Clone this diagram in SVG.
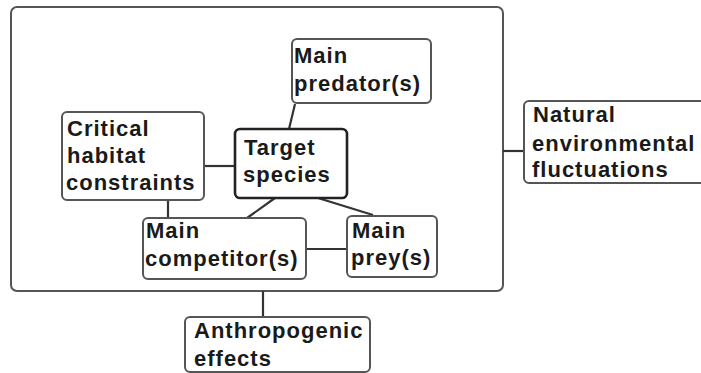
<svg xmlns="http://www.w3.org/2000/svg" width="701" height="373" viewBox="0 0 701 373">
<style>
.box{fill:#fff;stroke:#555;stroke-width:2}
.outer{fill:#fff;stroke:#555;stroke-width:2}
.main{fill:#fff;stroke:#222;stroke-width:2.6}
.con{stroke:#333;stroke-width:2.2;fill:none}
text{font-family:"Liberation Sans",Arial,sans-serif;font-weight:bold;font-size:22px;letter-spacing:1px;fill:#1a1a1a}
</style>
<rect width="701" height="373" fill="#fff"/>
<g id="environment"><rect class="outer" x="11" y="7" width="492" height="284" rx="6"/></g>
<g id="connectors">
<line class="con" x1="295" y1="104" x2="289" y2="129"/>
<line class="con" x1="204" y1="166" x2="235" y2="166"/>
<line class="con" x1="168" y1="200" x2="168" y2="218"/>
<line class="con" x1="275" y1="198" x2="247" y2="218"/>
<line class="con" x1="318" y1="198" x2="373" y2="215"/>
<line class="con" x1="306" y1="249" x2="347" y2="249"/>
<line class="con" x1="503" y1="151" x2="524" y2="151"/>
<line class="con" x1="263" y1="291" x2="263" y2="317"/>
</g>
<g id="predator"><rect class="box" x="292" y="39" width="139" height="64" rx="5"/>
<text x="294" y="63">Main</text><text x="294" y="91">predator(s)</text></g>
<g id="habitat"><rect class="box" x="62" y="112" width="142" height="88" rx="5"/>
<text x="67" y="136">Critical</text><text x="67" y="163">habitat</text><text x="66" y="190">constraints</text></g>
<g id="target"><rect class="main" x="235" y="129" width="112" height="69" rx="5"/>
<text x="244" y="155">Target</text><text x="243" y="182">species</text></g>
<g id="competitor"><rect class="box" x="143" y="218" width="163" height="61" rx="5"/>
<text x="146" y="238">Main</text><text x="145" y="266">competitor(s)</text></g>
<g id="prey"><rect class="box" x="347" y="216" width="90" height="61" rx="5"/>
<text x="352" y="238">Main</text><text x="351" y="265">prey(s)</text></g>
<g id="natural"><rect class="box" x="524" y="101" width="190" height="82" rx="5"/>
<text x="533" y="122">Natural</text><text x="532" y="151">environmental</text><text x="532" y="177">fluctuations</text></g>
<g id="anthropogenic"><rect class="box" x="185" y="317" width="185" height="55" rx="5"/>
<text x="194" y="338">Anthropogenic</text><text x="194" y="366">effects</text></g>
</svg>
